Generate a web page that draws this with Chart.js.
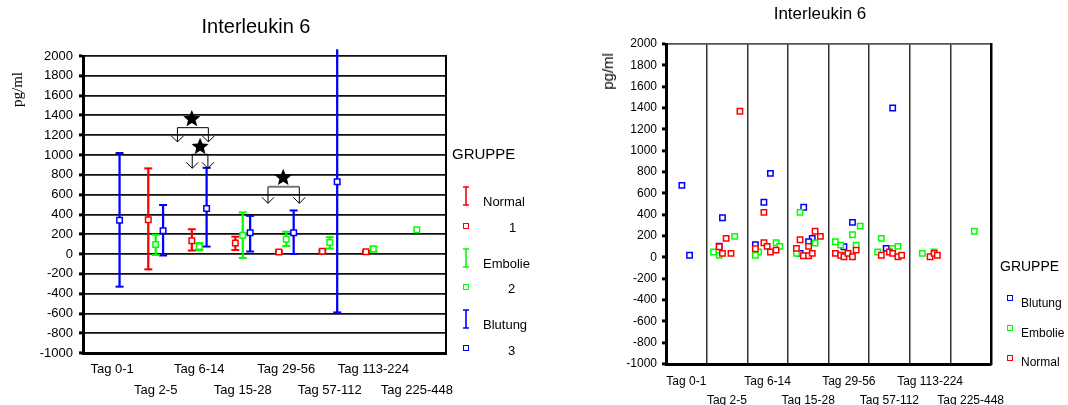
<!DOCTYPE html>
<html>
<head>
<meta charset="utf-8">
<script src="https://cdn.jsdelivr.net/npm/chart.js"></script>
<style>
  body { margin: 0; background: #fff; color: #000; font-family: "Liberation Sans", Arial, sans-serif; }
  #bild { position: relative; width: 1068px; height: 405px; overflow: hidden; background: #fff; }
  canvas { position: absolute; top: 0; }
  .txt { position: absolute; white-space: nowrap; line-height: 1; transform: translateY(-50%); }
  .dreh { position: absolute; white-space: nowrap; line-height: 1; color: #000; writing-mode: vertical-rl; transform: rotate(180deg); }
  .kasten { position: absolute; width: 6px; height: 6px; box-sizing: border-box; border: 1.5px solid; background: #fff; transform: translate(-50%, -50%); }
  .balken { position: absolute; transform: translate(-50%, -50%); }
</style>
</head>
<body>
<div id="bild">
  <canvas id="links" width="512" height="405" style="left:0"></canvas>
  <canvas id="rechts" width="496" height="405" style="left:572px"></canvas>

  <div class="dreh" style="left:10px;top:72px;font-family:'Liberation Serif','Times New Roman',serif;font-size:15px">pg/ml</div>
  <div class="dreh" style="left:600px;top:53px;font-size:15px">pg/ml</div>

  <!-- Legende links -->
  <div class="txt" style="left:452px;top:153px;font-size:15px">GRUPPE</div>
  <svg class="balken" style="left:466px;top:196px" width="8" height="20"><path d="M1 1H7M4 1V19M1 19H7" stroke="#ff0000" stroke-width="1.6" fill="none"/></svg>
  <div class="txt" style="left:483px;top:201px;font-size:13px">Normal</div>
  <div class="kasten" style="left:466px;top:226px;border-color:#ff0000"></div>
  <div class="txt" style="left:509px;top:227px;font-size:13px">1</div>
  <svg class="balken" style="left:466px;top:258px" width="8" height="20"><path d="M1 1H7M4 1V19M1 19H7" stroke="#00ff00" stroke-width="1.6" fill="none"/></svg>
  <div class="txt" style="left:483px;top:263px;font-size:13px">Embolie</div>
  <div class="kasten" style="left:466px;top:287px;border-color:#00ff00"></div>
  <div class="txt" style="left:508px;top:288px;font-size:13px">2</div>
  <svg class="balken" style="left:466px;top:319px" width="8" height="20"><path d="M1 1H7M4 1V19M1 19H7" stroke="#0000ff" stroke-width="1.6" fill="none"/></svg>
  <div class="txt" style="left:483px;top:324px;font-size:13px">Blutung</div>
  <div class="kasten" style="left:466px;top:348px;border-color:#0000ff"></div>
  <div class="txt" style="left:508px;top:350px;font-size:13px">3</div>

  <!-- Legende rechts -->
  <div class="txt" style="left:1000px;top:266px;font-size:14px">GRUPPE</div>
  <div class="kasten" style="left:1010px;top:298px;border-color:#0000ff"></div>
  <div class="txt" style="left:1021px;top:303px;font-size:12px">Blutung</div>
  <div class="kasten" style="left:1010px;top:328px;border-color:#00ff00"></div>
  <div class="txt" style="left:1021px;top:333px;font-size:12px">Embolie</div>
  <div class="kasten" style="left:1010px;top:358px;border-color:#ff0000"></div>
  <div class="txt" style="left:1021px;top:362px;font-size:12px">Normal</div>
</div>

<script>
var tage = ['Tag 0-1', 'Tag 2-5', 'Tag 6-14', 'Tag 15-28', 'Tag 29-56', 'Tag 57-112', 'Tag 113-224', 'Tag 225-448'];
var yTicks = [-1000, 2000, 200];

// Mittelwerte mit Streubereich je Gruppe
var normalMittel = [null, 345, 135, 110, 20, 28, 22, null];
var normalUnten = [null, -155, 35, 40, 8, 15, 12, null];
var normalOben = [null, 865, 250, 175, 30, 40, 30, null];
var embolieMittel = [null, 95, 75, 190, 150, 115, 50, 245];
var embolieUnten = [null, -10, 40, -40, 80, 55, 25, null];
var embolieOben = [null, 195, 110, 420, 225, 170, 75, null];
var blutungMittel = [340, 235, 460, 215, 215, 730, null, null];
var blutungUnten = [-330, -15, 75, 25, 0, -590, null, null];
var blutungOben = [1020, 495, 870, 385, 440, 2065, null, null];

// Signifikanz-Klammern (x in Zeitraum-Einheiten, y in pg/ml)
var klammerVon = [1.50, 1.84, 3.58];
var klammerBis = [2.21, 2.20, 4.30];
var klammerHoehe = [1276, 1007, 680];
var klammerSpitze = [1132, 866, 512];
var sternX = [1.83, 2.02, 3.93];
var sternY = [1364, 1084, 771];

// Einzelwerte [Spalte + Streuung, pg/ml]
var blutungWerte = [[0.39, 675], [0.58, 20], [1.39, 371], [1.31, 105], [2.41, 516], [2.20, 118], [2.57, 787],
  [3.39, 469], [3.60, 178], [3.51, 146], [3.30, 37], [4.59, 328], [4.38, 99], [5.42, 84], [5.58, 1400]];
var embolieWerte = [[1.69, 197], [1.17, 50], [1.31, 19], [2.28, 50], [2.20, 19], [2.71, 137], [2.80, 103],
  [3.30, 422], [3.67, 134], [3.21, 37], [4.78, 293], [4.59, 212], [4.17, 146], [4.30, 115], [4.68, 115], [4.48, 40],
  [5.30, 178], [5.21, 50], [5.58, 84], [5.71, 103], [6.31, 37], [6.60, 50], [7.59, 244]];
var normalWerte = [[1.82, 1369], [1.48, 178], [1.31, 99], [1.39, 37], [1.60, 37],
  [2.41, 422], [2.20, 81], [2.41, 137], [2.49, 103], [2.57, 50], [2.71, 68],
  [3.67, 244], [3.80, 197], [3.30, 165], [3.51, 103], [3.21, 84], [3.38, 15], [3.51, 15], [3.60, 37],
  [4.68, 68], [4.17, 37], [4.30, 19], [4.38, 6], [4.48, 37], [4.59, 6],
  [5.30, 19], [5.50, 50], [5.58, 37], [5.71, 6], [5.80, 19], [6.50, 6], [6.60, 37], [6.68, 19]];

var ROT = '#ff0000', GRUEN = '#00ff00', BLAU = '#0000ff';

Chart.defaults.font.family = '"Liberation Sans", Arial, sans-serif';
Chart.defaults.color = '#000';

function gruppeLinks(farbe, dx, mittel, unten, oben) {
  var punkte = [], kappen = [], balken = [];
  mittel.forEach(function (m, i) {
    if (m === null) return;
    punkte.push({x: i + dx, y: m});
    if (unten[i] === null) return;
    balken.push({x: i + dx, y: [unten[i], oben[i]]});
    kappen.push({x: i + dx, y: unten[i]}, {x: i + dx, y: oben[i]});
  });
  return [
    {type: 'scatter', data: punkte, order: 0, clip: false, pointStyle: 'rect', pointRadius: 3.9,
      pointBorderWidth: 1.5, pointBorderColor: farbe, pointBackgroundColor: '#fff'},
    {type: 'scatter', data: kappen, order: 1, clip: false, pointStyle: 'line', pointRadius: 4,
      pointBorderWidth: 2, pointBorderColor: farbe},
    {type: 'bar', data: balken, order: 2, clip: false, backgroundColor: farbe, borderWidth: 0,
      barThickness: 1.6, maxBarThickness: 1.6, grouped: false}
  ];
}

function stern(ctx, cx, cy, r) {
  ctx.beginPath();
  for (var k = 0; k < 10; k++) {
    var rr = k % 2 ? r * 0.45 : r;
    var a = -Math.PI / 2 + k * Math.PI / 5;
    ctx.lineTo(cx + rr * Math.cos(a), cy + rr * Math.sin(a));
  }
  ctx.closePath();
  ctx.fill();
}

var klammernPlugin = {
  id: 'klammern',
  afterDatasetsDraw: function (chart) {
    var sx = chart.scales.x, sy = chart.scales.y, ctx = chart.ctx;
    ctx.save();
    ctx.lineWidth = 1;
    klammerVon.forEach(function (von, k) {
      var x0 = sx.getPixelForValue(von), x1 = sx.getPixelForValue(klammerBis[k]);
      var yb = sy.getPixelForValue(klammerHoehe[k]), ys = sy.getPixelForValue(klammerSpitze[k]);
      ctx.strokeStyle = '#000';
      ctx.beginPath();
      ctx.moveTo(x0, yb); ctx.lineTo(x0, ys);
      ctx.moveTo(x1, yb); ctx.lineTo(x1, ys);
      [x0, x1].forEach(function (xp) {
        ctx.moveTo(xp - 6, ys - 6); ctx.lineTo(xp, ys); ctx.lineTo(xp + 6, ys - 6);
      });
      ctx.stroke();
      // die untere Klammer hat einen grauen Querstrich
      ctx.strokeStyle = k === 2 ? '#777' : '#000';
      ctx.lineWidth = k === 2 ? 2 : 1;
      ctx.beginPath();
      ctx.moveTo(x0, yb); ctx.lineTo(x1, yb);
      ctx.stroke();
      ctx.lineWidth = 1;
    });
    ctx.fillStyle = '#000';
    sternX.forEach(function (x, k) {
      stern(ctx, sx.getPixelForValue(x), sy.getPixelForValue(sternY[k]), 9);
    });
    ctx.restore();
  }
};

function yAchse(breite, schrift, abstand, gitter) {
  return {
    type: 'linear', min: yTicks[0], max: yTicks[1],
    ticks: {stepSize: yTicks[2], font: {size: schrift}, padding: abstand, color: '#000',
      callback: function (v) { return String(v); }},
    grid: {color: gitter, lineWidth: 1.8, tickLength: 4, tickWidth: 3, tickColor: '#000'},
    border: {color: '#000', width: 3},
    afterFit: function (s) { s.width = breite; }
  };
}

function rechterRand(breite, dicke) {
  return {
    type: 'linear', position: 'right', display: true,
    ticks: {display: false}, grid: {display: false},
    border: {display: true, color: '#000', width: dicke},
    afterFit: function (s) { s.width = breite; }
  };
}

// Mittelwerte mit Fehlerbalken
new Chart(document.getElementById('links'), {
  type: 'scatter',
  data: {
    datasets: [].concat(
      gruppeLinks(ROT, -0.17, normalMittel, normalUnten, normalOben),
      gruppeLinks(GRUEN, 0, embolieMittel, embolieUnten, embolieOben),
      gruppeLinks(BLAU, 0.17, blutungMittel, blutungUnten, blutungOben)
    )
  },
  options: {
    responsive: false, animation: false, events: [],
    layout: {padding: 0},
    plugins: {
      legend: {display: false}, tooltip: {enabled: false},
      title: {display: true, text: 'Interleukin 6', color: '#000',
        font: {size: 20, weight: 'normal'}, padding: {top: 15, bottom: 17}}
    },
    scales: {
      x: {
        type: 'linear', min: -0.67, max: 7.67, offset: false,
        afterBuildTicks: function (s) { s.ticks = tage.map(function (t, i) { return {value: i}; }); },
        ticks: {autoSkip: false, maxRotation: 0, minRotation: 0, padding: 6, color: '#000',
          font: {size: 13, lineHeight: '21px'},
          callback: function (v, i) { return i % 2 ? ['', tage[v]] : tage[v]; }},
        grid: {display: false, drawTicks: false},
        border: {display: true, color: '#000', width: 3},
        afterFit: function (s) { s.height = 52; }
      },
      y: yAchse(83, 13, 6, '#111'),
      rand: rechterRand(66, 2)
    }
  },
  plugins: [klammernPlugin]
});

function punkte(werte, farbe, reihe) {
  return {
    type: 'scatter', order: reihe,
    data: werte.map(function (p) { return {x: p[0], y: p[1]}; }),
    pointStyle: 'rect', pointRadius: 3.8, pointBorderWidth: 1.5,
    pointBorderColor: farbe, pointBackgroundColor: '#fff'
  };
}

// Einzelwerte je Zeitraum
new Chart(document.getElementById('rechts'), {
  type: 'scatter',
  data: {
    datasets: [punkte(normalWerte, ROT, 0), punkte(embolieWerte, GRUEN, 1), punkte(blutungWerte, BLAU, 2)]
  },
  options: {
    responsive: false, animation: false, events: [],
    layout: {padding: 0},
    plugins: {
      legend: {display: false}, tooltip: {enabled: false},
      title: {display: true, text: 'Interleukin 6', color: '#000',
        font: {size: 17, weight: 'normal'}, padding: {top: 4, bottom: 19.6}}
    },
    scales: {
      x: {
        type: 'linear', min: 0, max: tage.length,
        afterBuildTicks: function (s) {
          var t = [];
          for (var v = 0; v <= tage.length; v += 0.5) t.push({value: v});
          s.ticks = t;
        },
        ticks: {autoSkip: false, maxRotation: 0, minRotation: 0, padding: 8, color: '#000',
          font: {size: 12, lineHeight: '19px'},
          callback: function (v) {
            if (Number.isInteger(v)) return '';
            var k = v - 0.5;
            return k % 2 ? ['', tage[k]] : tage[k];
          }},
        grid: {drawTicks: false, lineWidth: 1.5,
          color: function (c) { return Number.isInteger(c.tick.value) ? '#333' : 'rgba(0,0,0,0)'; }},
        border: {display: true, color: '#000', width: 3},
        afterFit: function (s) { s.height = 41; }
      },
      y: yAchse(94, 12, 5, function (c) { return c.tick.value === yTicks[1] ? '#555' : 'rgba(0,0,0,0)'; }),
      rand: rechterRand(77, 2.5)
    }
  }
});
</script>
</body>
</html>
